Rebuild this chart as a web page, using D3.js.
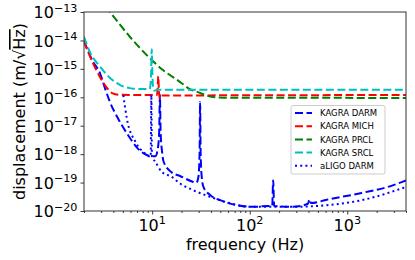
<!DOCTYPE html>
<html>
<head>
<meta charset="utf-8">
<script src="https://cdn.jsdelivr.net/npm/d3@7"></script>
<style>
  body { margin: 0; background: #fff; }
  text { font-family: "DejaVu Sans", sans-serif; fill: #000; }
</style>
</head>
<body>
<div id="chart"></div>
<script>
// values: frequency (Hz) / displacement (m/rtHz)
var darm_f = [2, 2.47, 2.92, 3.28, 3.69, 4.47, 5.65, 7.1, 8.8, 9.8, 10.8, 11.4, 11.8, 12.0, 12.2, 12.6, 13.1, 15.8, 19.3, 26, 28.4, 29.8, 30.6, 31, 31.4, 32.2, 33.6, 39.5, 49.7, 73.5, 107, 158, 170, 174, 178, 276, 395, 410, 425, 617, 1400, 2970, 4000];
var darm_v = [9.5e-15, 1.8e-15, 7e-16, 2.1e-16, 6.8e-17, 1.8e-17, 4.7e-18, 1.6e-18, 9.3e-19, 8.5e-19, 8.5e-19, 1.5e-18, 6e-18, 1.2e-16, 6e-18, 1.3e-18, 5.4e-19, 2.3e-19, 1.7e-19, 1.07e-19, 9.8e-20, 1.6e-19, 1e-18, 6.8e-17, 1e-18, 1.6e-19, 6.9e-20, 3.6e-20, 2.4e-20, 1.6e-20, 1.4e-20, 1.5e-20, 1.5e-20, 1.2e-19, 1.5e-20, 1.4e-20, 1.8e-20, 2.6e-20, 1.9e-20, 2.5e-20, 4.3e-20, 8.1e-20, 1.2e-19];

var mich_f = [2, 2.47, 2.92, 3.45, 3.88, 4.6, 11.2, 11.4, 11.55, 11.7, 11.9, 12.3, 4000];
var mich_v = [9e-15, 1.6e-15, 5.1e-16, 2.1e-16, 1.4e-16, 1.22e-16, 1.2e-16, 2.5e-16, 5.5e-16, 2e-16, 9e-17, 1.15e-16, 1.2e-16];

var prcl_f = [3.3, 3.69, 5.9, 9.9, 12.9, 19.2, 24.6, 29, 42, 60, 4000];
var prcl_v = [1.6e-13, 1e-13, 1.35e-14, 2.05e-15, 9.1e-16, 3.5e-16, 1.9e-16, 1.55e-16, 1.02e-16, 9.7e-17, 9.5e-17];

var srcl_f = [2, 2.3, 2.92, 3.7, 4.7, 5.9, 7.5, 9.4, 9.7, 9.9, 10.05, 10.25, 10.6, 11.2, 4000];
var srcl_v = [1.35e-14, 3.9e-15, 1.2e-15, 4.8e-16, 2.7e-16, 2.1e-16, 1.95e-16, 1.95e-16, 4e-16, 4.9e-15, 6e-16, 2.2e-16, 1.7e-16, 1.85e-16, 1.85e-16];

var aligo_f = [5.06, 5.5, 6.7, 8.4, 9.2, 9.65, 9.8, 9.95, 10.1, 10.7, 12.5, 15.8, 19.3, 26, 35.2, 42, 62, 99, 276, 617, 1400, 4000];
var aligo_v = [1.2e-16, 1.8e-17, 2.8e-18, 1.07e-18, 8.5e-19, 8e-19, 1.2e-16, 8e-19, 7.2e-19, 5.5e-19, 2.4e-19, 1.6e-19, 9.3e-20, 5.5e-20, 3.6e-20, 2.9e-20, 1.9e-20, 1.4e-20, 1.4e-20, 1.6e-20, 2.4e-20, 7e-20];

var series_names = ["KAGRA DARM", "KAGRA MICH", "KAGRA PRCL", "KAGRA SRCL", "aLIGO DARM"];
var x_tick_exp = [1, 2, 3];
var y_tick_exp = [-20, -19, -18, -17, -16, -15, -14, -13];

// styles
var colors = ["#0000ff", "#ff0000", "#008000", "#00bfbf", "#0000ff"];
var dashes = ["8,3.5", "8,3.5", "8,3.5", "8,3.5", "2,3.2"];

var W = 415, H = 260, L = 84, R = 406, T = 12, B = 211;

var svg = d3.select("#chart").append("svg")
    .attr("width", W).attr("height", H);

var x = d3.scaleLog().domain([2, 4000]).range([L, R]);
var y = d3.scaleLog().domain([1e-20, 1e-13]).range([B, T]);

svg.append("clipPath").attr("id", "clip")
  .append("rect").attr("x", L).attr("y", T).attr("width", R - L).attr("height", B - T);

var series = [[darm_f, darm_v], [mich_f, mich_v], [prcl_f, prcl_v], [srcl_f, srcl_v], [aligo_f, aligo_v]];

var line = d3.line()
    .x(function(d){ return x(d[0]); })
    .y(function(d){ return y(d[1]); })
    .curve(d3.curveMonotoneX);

var plot = svg.append("g").attr("clip-path", "url(#clip)");
series.forEach(function(s, i){
  var pts = s[0].map(function(f, j){ return [f, s[1][j]]; });
  plot.append("path")
      .attr("d", line(pts))
      .attr("fill", "none")
      .attr("stroke", colors[i])
      .attr("stroke-width", 2)
      .attr("stroke-dasharray", dashes[i]);
});

// ticks
var x_major = x_tick_exp.map(function(e){ return Math.pow(10, e); });
var x_minor = [];
[1, 10, 100, 1000].forEach(function(d){
  for (var k = 2; k <= 9; k++){
    var v = d * k;
    if (v >= 2 && v <= 4000) x_minor.push(v);
  }
});

var xa = svg.append("g").attr("transform", "translate(0," + B + ")");
xa.call(d3.axisBottom(x).tickValues(x_major).tickSize(3.5).tickSizeOuter(0).tickFormat(""));
xa.select(".domain").remove();
var xm = svg.append("g").attr("transform", "translate(0," + B + ")");
xm.call(d3.axisBottom(x).tickValues(x_minor).tickSize(2).tickSizeOuter(0).tickFormat(""));
xm.select(".domain").remove();

var ya = svg.append("g").attr("transform", "translate(" + L + ",0)");
ya.call(d3.axisLeft(y).tickValues(y_tick_exp.map(function(e){ return Math.pow(10, e); })).tickSize(3.5).tickSizeOuter(0).tickFormat(""));
ya.select(".domain").remove();
svg.selectAll(".tick line").attr("stroke", "#222").attr("stroke-width", 0.9);

// tick labels
x_tick_exp.forEach(function(e){
  var t = svg.append("text")
      .attr("x", x(Math.pow(10, e)))
      .attr("y", 230.8)
      .attr("text-anchor", "middle")
      .attr("font-size", 16);
  t.append("tspan").text("10");
  t.append("tspan").attr("font-size", 11.2).attr("dy", -6.6).text(String(e));
});
y_tick_exp.forEach(function(e){
  var t = svg.append("text")
      .attr("x", 77.5)
      .attr("y", y(Math.pow(10, e)) + 6.3)
      .attr("text-anchor", "end")
      .attr("font-size", 16);
  t.append("tspan").text("10");
  t.append("tspan").attr("font-size", 11.2).attr("dy", -6.6).text("\u2212" + Math.abs(e));
});

// frame
svg.append("rect")
    .attr("x", L).attr("y", T).attr("width", R - L).attr("height", B - T)
    .attr("fill", "none").attr("stroke", "#333").attr("stroke-width", 1);

// axis labels
svg.append("text")
    .attr("x", (L + R) / 2).attr("y", 250)
    .attr("text-anchor", "middle").attr("font-size", 16)
    .text("frequency (Hz)");

var yl = svg.append("text")
    .attr("transform", "translate(25," + ((T + B) / 2) + ") rotate(-90)")
    .attr("text-anchor", "middle").attr("font-size", 16);
yl.append("tspan").text("displacement (m/\u221A");
yl.append("tspan").style("text-decoration", "overline").text("Hz");
yl.append("tspan").text(")");

// legend
var lg = svg.append("g");
lg.append("rect")
    .attr("x", 291).attr("y", 105.5).attr("width", 94).attr("height", 68.5)
    .attr("rx", 2)
    .attr("fill", "#fff").attr("fill-opacity", 0.8)
    .attr("stroke", "#ccc").attr("stroke-width", 1);
series_names.forEach(function(n, i){
  var cy = 113 + i * 13.2;
  lg.append("line")
      .attr("x1", 295).attr("x2", 312).attr("y1", cy).attr("y2", cy)
      .attr("stroke", colors[i]).attr("stroke-width", 2)
      .attr("stroke-dasharray", dashes[i]);
  lg.append("text")
      .attr("x", 320).attr("y", cy + 3.1)
      .attr("font-size", 8.5)
      .text(n);
});
</script>
</body>
</html>
